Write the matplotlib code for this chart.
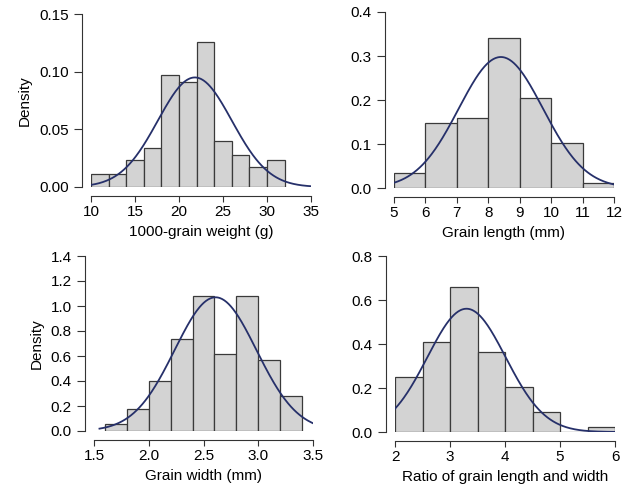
import numpy as np
import matplotlib
matplotlib.use('Agg')
import matplotlib.pyplot as plt

plt.rcParams['font.family'] = ['Liberation Sans', 'DejaVu Sans']
plt.rcParams['font.size'] = 11

# histogram bin edges and densities
w_edges = [10, 12, 14, 16, 18, 20, 22, 24, 26, 28, 30, 32]
w_dens = [0.011, 0.011, 0.023, 0.034, 0.097, 0.091, 0.126, 0.040, 0.028, 0.017, 0.023]
w_fit = (21.8, 4.2)

l_edges = [5, 6, 7, 8, 9, 10, 11, 12]
l_dens = [0.035, 0.148, 0.160, 0.342, 0.205, 0.102, 0.011]
l_fit = (8.4, 1.34)

g_edges = [1.6, 1.8, 2.0, 2.2, 2.4, 2.6, 2.8, 3.0, 3.2, 3.4]
g_dens = [0.06, 0.175, 0.40, 0.74, 1.08, 0.62, 1.08, 0.565, 0.28]
g_fit = (2.61, 0.373)

r_edges = [2.0, 2.5, 3.0, 3.5, 4.0, 4.5, 5.0, 5.5, 6.0]
r_dens = [0.25, 0.41, 0.66, 0.365, 0.205, 0.093, 0.0, 0.022]
r_fit = (3.3, 0.712)

W, H = 638, 487
fig = plt.figure(figsize=(W / 100, H / 100), dpi=100)

def panel(px, py, edges, dens, fit, xlim, curve_x, ylim, xticks, yticks,
          xlabel, ylabel=None):
    # px, py: pixel positions of axis limits (x0, x1), (ytop, ybottom)
    ax = fig.add_axes([px[0] / W, 1 - py[1] / H, (px[1] - px[0]) / W,
                       (py[1] - py[0]) / H])
    ax.bar(edges[:-1], dens, width=np.diff(edges), align='edge',
           color='#d3d3d3', edgecolor='#3a3a3a', linewidth=0.9)
    xs = np.linspace(curve_x[0], curve_x[1], 300)
    mu, sd = fit
    ax.plot(xs, np.exp(-0.5 * ((xs - mu) / sd) ** 2) / (sd * np.sqrt(2 * np.pi)),
            color='#26306a', lw=1.3)
    ax.set_xlim(*xlim)
    ax.set_ylim(*ylim)
    ax.set_xticks(xticks)
    ax.set_xticklabels([str(t) for t in xticks])
    ax.set_yticks(yticks)
    ax.set_yticklabels([f'{t:.{2 if ylim[1] < 0.2 else 1}f}' for t in yticks])
    for s in ['top', 'right']:
        ax.spines[s].set_visible(False)
    ax.spines['left'].set_position(('outward', 6.5))
    ax.spines['bottom'].set_position(('outward', 6.5))
    ax.spines['left'].set_bounds(yticks[0], yticks[-1])
    ax.spines['bottom'].set_bounds(xticks[0], xticks[-1])
    for s in ['left', 'bottom']:
        ax.spines[s].set_color('#333333')
        ax.spines[s].set_linewidth(0.8)
    ax.tick_params(axis='y', length=5.5, width=0.8, color='#333333', pad=4)
    ax.tick_params(axis='x', length=4.5, width=0.8, color='#333333', pad=2)
    ax.patch.set_visible(False)
    ax.set_xlabel(xlabel, labelpad=4.5)
    if ylabel:
        ax.set_ylabel(ylabel, labelpad=5)
    return ax

panel((91, 311), (14, 187), w_edges, w_dens, w_fit, (10, 35), (10, 35),
      (0, 0.15), [10, 15, 20, 25, 30, 35], [0.0, 0.05, 0.10, 0.15],
      '1000-grain weight (g)', 'Density')
panel((394, 614), (12, 188), l_edges, l_dens, l_fit, (5, 12), (5, 12),
      (0, 0.4), [5, 6, 7, 8, 9, 10, 11, 12], [0.0, 0.1, 0.2, 0.3, 0.4],
      'Grain length (mm)')
panel((94, 313), (256, 431), g_edges, g_dens, g_fit, (1.5, 3.5), (1.55, 3.5),
      (0, 1.4), [1.5, 2.0, 2.5, 3.0, 3.5], [0.0, 0.2, 0.4, 0.6, 0.8, 1.0, 1.2, 1.4],
      'Grain width (mm)', 'Density')
panel((395, 615), (256, 432), r_edges, r_dens, r_fit, (2, 6), (2, 6),
      (0, 0.8), [2, 3, 4, 5, 6], [0.0, 0.2, 0.4, 0.6, 0.8],
      'Ratio of grain length and width')

fig.savefig('out.png', dpi=100)
